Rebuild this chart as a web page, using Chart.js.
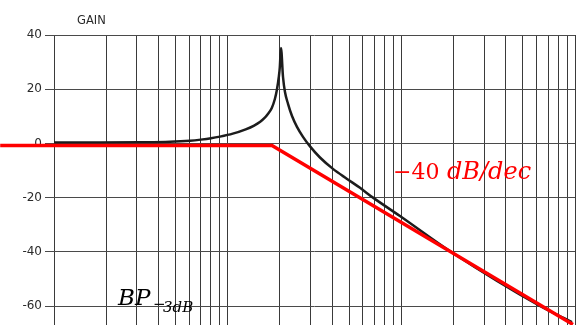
<!DOCTYPE html>
<html>
<head>
<meta charset="utf-8">
<script src="https://cdn.jsdelivr.net/npm/chart.js@4"></script>
<style>
  html, body { margin: 0; padding: 0; background: #ffffff; }
  canvas { display: block; }
</style>
</head>
<body>
<canvas id="gainChart" width="580" height="325"></canvas>
<script>
// Measured gain curve (frequency, dB)
const gainFreq = [1, 1.84, 3.13, 4.66, 6.07, 7.0, 8.02, 9.03, 10.7, 12.7, 14.2, 15.4, 16.2, 17.0, 17.95, 18.7, 19.2, 19.7, 19.97, 20.27,
                  20.83, 21.38, 22.26, 23.47, 25.07, 27.15, 29.8, 34.0, 40.4, 48.7, 57.8, 68.7, 98.2, 193, 628, 961];
const gainDb   = [0.3, 0.3, 0.4, 0.6, 1.0, 1.4, 1.9, 2.5, 3.6, 5.2, 6.6, 8.0, 9.2, 10.8, 13.1, 16.4, 19.7, 24.5, 28.2, 35.2,
                  24.5, 19.0, 14.6, 10.1, 6.1, 2.4, -1.1, -5.2, -9.4, -13.1, -16.4, -20.0, -26.8, -40, -60, -65.9];

// Straight-line asymptote
const asymFreq = [0.49, 18, 973];
const asymDb   = [-0.8, -0.8, -66.8];

// Axis ticks / grid
const yTickValues = [40, 20, 0, -20, -40, -60];
const xGridValues = [
    1, 2, 3, 4, 5, 6, 7, 8, 9,
    10, 20, 30, 40, 50, 60, 70, 80, 90,
    100, 200, 300, 400, 500, 600, 700, 800, 900,
    1000
];

const toPoints = (xs, ys) => xs.map((x, i) => ({x: x, y: ys[i]}));

// Labels drawn over the plot
const gainLabels = {
    id: 'gainLabels',
    afterDatasetsDraw(chart) {
        const ctx = chart.ctx;
        ctx.save();
        ctx.textBaseline = 'alphabetic';
        ctx.textAlign = 'left';

        // axis title
        ctx.fillStyle = '#2b2b2b';
        ctx.font = '11.5px "DejaVu Sans"';
        ctx.fillText('GAIN', 77, 24);

        // slope label
        ctx.fillStyle = '#ff0000';
        ctx.font = '22px "DejaVu Serif"';
        ctx.fillText('\u221240', 393, 179);
        ctx.font = 'italic 24px "DejaVu Serif"';
        ctx.fillText('dB/dec', 447, 179);

        // bandwidth label
        ctx.fillStyle = '#000000';
        ctx.font = 'italic 23px "DejaVu Serif"';
        ctx.fillText('BP', 118, 305);
        ctx.font = '15px "DejaVu Serif"';
        ctx.fillText('\u2212', 153, 309);
        ctx.font = 'italic 15px "DejaVu Serif"';
        ctx.fillText('3dB', 163, 312);
        ctx.restore();
    }
};

const gainConfig = {
    type: 'line',
    data: {
        datasets: [{
            label: 'Asymptote',
            data: toPoints(asymFreq, asymDb),
            borderColor: '#ff0000',
            borderWidth: 3.5,
            pointRadius: 0,
            tension: 0,
            clip: false
        }, {
            label: 'Gain',
            data: toPoints(gainFreq, gainDb),
            borderColor: '#1c1c1c',
            borderWidth: 2.5,
            pointRadius: 0,
            cubicInterpolationMode: 'monotone'
        }]
    },
    options: {
        responsive: false,
        animation: false,
        layout: {
            padding: {top: 35, right: 5, left: 0, bottom: 0}
        },
        plugins: {
            legend: {display: false},
            tooltip: {enabled: false}
        },
        scales: {
            x: {
                type: 'logarithmic',
                min: 1,
                max: 1000,
                afterBuildTicks: scale => {
                    scale.ticks = xGridValues.map(v => ({value: v}));
                },
                afterFit: scale => {
                    scale.height = 0;
                    scale.paddingLeft = 0;
                    scale.paddingRight = 0;
                },
                ticks: {display: false},
                border: {display: false},
                grid: {
                    color: '#3a3a3a',
                    lineWidth: 1,
                    drawTicks: false
                }
            },
            y: {
                min: -67,
                max: 40,
                afterBuildTicks: scale => {
                    scale.ticks = yTickValues.map(v => ({value: v}));
                },
                afterFit: scale => {
                    scale.width = 54;
                    // plot runs to the bottom edge of the canvas
                    scale.paddingTop = 0;
                    scale.paddingBottom = 0;
                },
                border: {display: false},
                grid: {
                    color: '#4a4a4a',
                    lineWidth: 1,
                    tickLength: 9
                },
                ticks: {
                    color: '#2b2b2b',
                    padding: 3,
                    font: {family: '"DejaVu Sans"', size: 12}
                }
            }
        }
    },
    plugins: [gainLabels]
};

const gainChart = new Chart(
    document.getElementById('gainChart'),
    gainConfig
);
</script>
</body>
</html>
